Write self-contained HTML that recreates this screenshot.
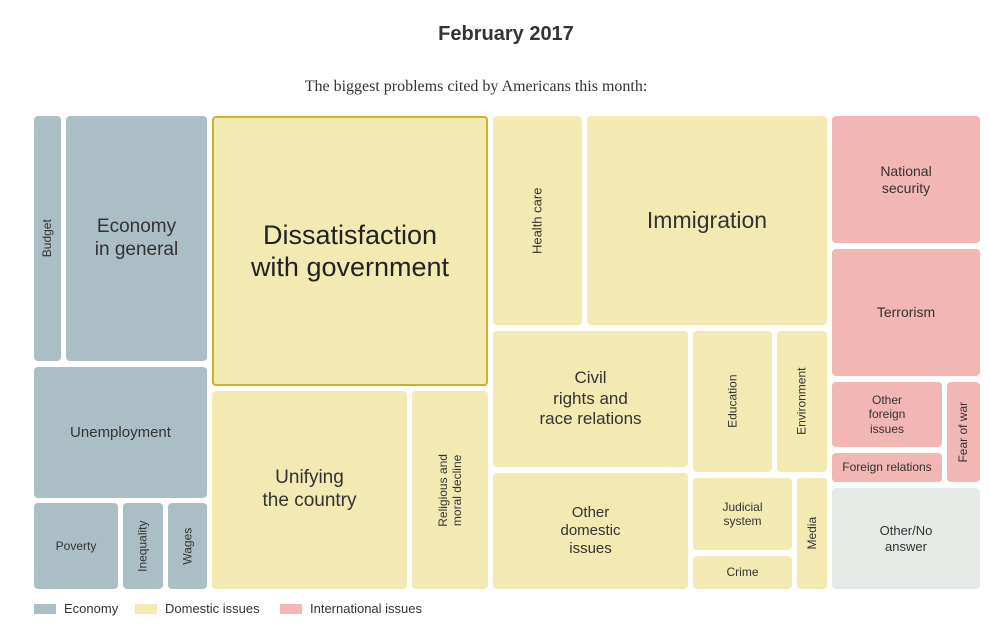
<!DOCTYPE html>
<html><head><style>
body{margin:0;width:990px;height:629px;background:#fff;font-family:"Liberation Sans",sans-serif;color:#333;position:relative;overflow:hidden}
.b{position:absolute;border-radius:4px;display:flex;align-items:center;justify-content:center;text-align:center;box-sizing:border-box;line-height:1.2}
.e{background:#abbec6}.d{background:#f3e9b3}.i{background:#f2b6b4}.o{background:#e6eae6}
.v span{transform:rotate(-90deg);white-space:nowrap;display:block}
.t{position:absolute;left:0;width:1012px;text-align:center;font-weight:bold;font-size:20px;top:23px}
.s{position:absolute;left:0;width:952px;text-align:center;font-family:"Liberation Serif",serif;font-size:16px;top:78px}
.lg{position:absolute;top:601px;font-size:13px;display:flex;align-items:center}
.lg i{display:inline-block;width:22px;height:10px;margin-right:8px}
</style></head><body>
<div class="t">February 2017</div>
<div class="s">The biggest problems cited by Americans this month:</div>

<div class="b e v" style="left:34px;top:116px;width:27px;height:245px;font-size:12px"><span>Budget</span></div>
<div class="b e" style="left:66px;top:116px;width:141px;height:245px;font-size:19px">Economy<br>in general</div>
<div class="b e" style="left:34px;top:367px;width:173px;height:131px;font-size:15px">Unemployment</div>
<div class="b e" style="left:34px;top:503px;width:84px;height:86px;font-size:12px">Poverty</div>
<div class="b e v" style="left:123px;top:503px;width:40px;height:86px;font-size:12px"><span>Inequality</span></div>
<div class="b e v" style="left:168px;top:503px;width:39px;height:86px;font-size:12px"><span>Wages</span></div>

<div class="b d" style="left:212px;top:116px;width:276px;height:270px;font-size:27px;border:2px solid #c9b32a;color:#222">Dissatisfaction<br>with government</div>
<div class="b d" style="left:212px;top:391px;width:195px;height:198px;font-size:19px">Unifying<br>the country</div>
<div class="b d v" style="left:412px;top:391px;width:76px;height:198px;font-size:12px"><span>Religious and<br>moral decline</span></div>
<div class="b d v" style="left:493px;top:116px;width:89px;height:209px;font-size:13px"><span>Health care</span></div>
<div class="b d" style="left:587px;top:116px;width:240px;height:209px;font-size:23px">Immigration</div>
<div class="b d" style="left:493px;top:331px;width:195px;height:136px;font-size:17px">Civil<br>rights and<br>race relations</div>
<div class="b d v" style="left:693px;top:331px;width:79px;height:141px;font-size:12px"><span>Education</span></div>
<div class="b d v" style="left:777px;top:331px;width:50px;height:141px;font-size:12px"><span>Environment</span></div>
<div class="b d" style="left:493px;top:473px;width:195px;height:116px;font-size:15px">Other<br>domestic<br>issues</div>
<div class="b d" style="left:693px;top:478px;width:99px;height:72px;font-size:12px">Judicial<br>system</div>
<div class="b d" style="left:693px;top:556px;width:99px;height:33px;font-size:12px">Crime</div>
<div class="b d v" style="left:797px;top:478px;width:30px;height:111px;font-size:12px"><span>Media</span></div>

<div class="b i" style="left:832px;top:116px;width:148px;height:127px;font-size:14px">National<br>security</div>
<div class="b i" style="left:832px;top:249px;width:148px;height:127px;font-size:14px">Terrorism</div>
<div class="b i" style="left:832px;top:382px;width:110px;height:65px;font-size:12px">Other<br>foreign<br>issues</div>
<div class="b i" style="left:832px;top:453px;width:110px;height:29px;font-size:12px">Foreign relations</div>
<div class="b i v" style="left:947px;top:382px;width:33px;height:100px;font-size:12px"><span>Fear of war</span></div>
<div class="b o" style="left:832px;top:488px;width:148px;height:101px;font-size:13px">Other/No<br>answer</div>

<div class="lg" style="left:34px"><i style="background:#abbec6"></i>Economy</div>
<div class="lg" style="left:135px"><i style="background:#f3e9b3"></i>Domestic issues</div>
<div class="lg" style="left:280px"><i style="background:#f2b6b4"></i>International issues</div>
</body></html>
